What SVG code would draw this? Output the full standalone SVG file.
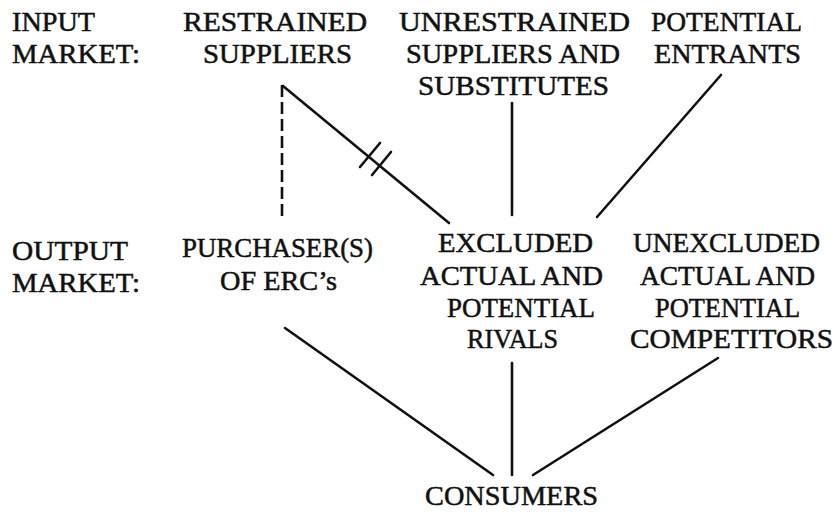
<svg xmlns="http://www.w3.org/2000/svg" width="838" height="512" viewBox="0 0 838 512">
<style>
text{font-family:"Liberation Serif","Times New Roman",serif;font-size:27px;fill:#111;stroke:#111;stroke-width:0.5px}
.ln{stroke:#111;stroke-width:2.6;fill:none;stroke-linecap:round}
.dash{stroke-dasharray:12 5;stroke-linecap:butt}
</style>
<rect width="838" height="512" fill="#fff"/>
<g id="label-input">
<text x="12" y="31" textLength="83" lengthAdjust="spacingAndGlyphs">INPUT</text>
<text x="12" y="63" textLength="128" lengthAdjust="spacingAndGlyphs">MARKET:</text>
</g>
<g id="label-output">
<text x="12" y="260" textLength="116" lengthAdjust="spacingAndGlyphs">OUTPUT</text>
<text x="12" y="292" textLength="128" lengthAdjust="spacingAndGlyphs">MARKET:</text>
</g>
<g id="restrained">
<text x="183" y="31" textLength="184" lengthAdjust="spacingAndGlyphs">RESTRAINED</text>
<text x="203" y="63" textLength="149" lengthAdjust="spacingAndGlyphs">SUPPLIERS</text>
</g>
<g id="unrestrained">
<text x="399" y="31" textLength="231" lengthAdjust="spacingAndGlyphs">UNRESTRAINED</text>
<text x="406" y="63" textLength="214" lengthAdjust="spacingAndGlyphs">SUPPLIERS AND</text>
<text x="418" y="95" textLength="191" lengthAdjust="spacingAndGlyphs">SUBSTITUTES</text>
</g>
<g id="entrants">
<text x="651" y="31" textLength="151" lengthAdjust="spacingAndGlyphs">POTENTIAL</text>
<text x="654" y="63" textLength="147" lengthAdjust="spacingAndGlyphs">ENTRANTS</text>
</g>
<g id="purchasers">
<text x="182" y="257" textLength="191" lengthAdjust="spacingAndGlyphs">PURCHASER(S)</text>
<text x="220" y="290" textLength="117" lengthAdjust="spacingAndGlyphs">OF ERC’s</text>
</g>
<g id="excluded">
<text x="438" y="252" textLength="155" lengthAdjust="spacingAndGlyphs">EXCLUDED</text>
<text x="420" y="285" textLength="183" lengthAdjust="spacingAndGlyphs">ACTUAL AND</text>
<text x="447" y="317" textLength="148" lengthAdjust="spacingAndGlyphs">POTENTIAL</text>
<text x="467" y="348" textLength="91" lengthAdjust="spacingAndGlyphs">RIVALS</text>
</g>
<g id="unexcluded">
<text x="633" y="252" textLength="187" lengthAdjust="spacingAndGlyphs">UNEXCLUDED</text>
<text x="640" y="285" textLength="175" lengthAdjust="spacingAndGlyphs">ACTUAL AND</text>
<text x="655" y="317" textLength="145" lengthAdjust="spacingAndGlyphs">POTENTIAL</text>
<text x="630" y="348" textLength="203" lengthAdjust="spacingAndGlyphs">COMPETITORS</text>
</g>
<g id="consumers">
<text x="425" y="505" textLength="173" lengthAdjust="spacingAndGlyphs">CONSUMERS</text>
</g>
<g id="connectors">
<line class="ln dash" x1="282" y1="85" x2="282" y2="220"/>
<line class="ln" x1="283" y1="86" x2="449" y2="223"/>
<line class="ln" x1="360" y1="167" x2="380" y2="143"/>
<line class="ln" x1="372" y1="175" x2="391" y2="152"/>
<line class="ln" x1="512" y1="103" x2="512" y2="215"/>
<line class="ln" x1="721" y1="75" x2="597" y2="217"/>
<line class="ln" x1="285" y1="328" x2="493" y2="475"/>
<line class="ln" x1="512" y1="363" x2="512" y2="475"/>
<line class="ln" x1="718" y1="358" x2="533" y2="475"/>
</g>
</svg>
